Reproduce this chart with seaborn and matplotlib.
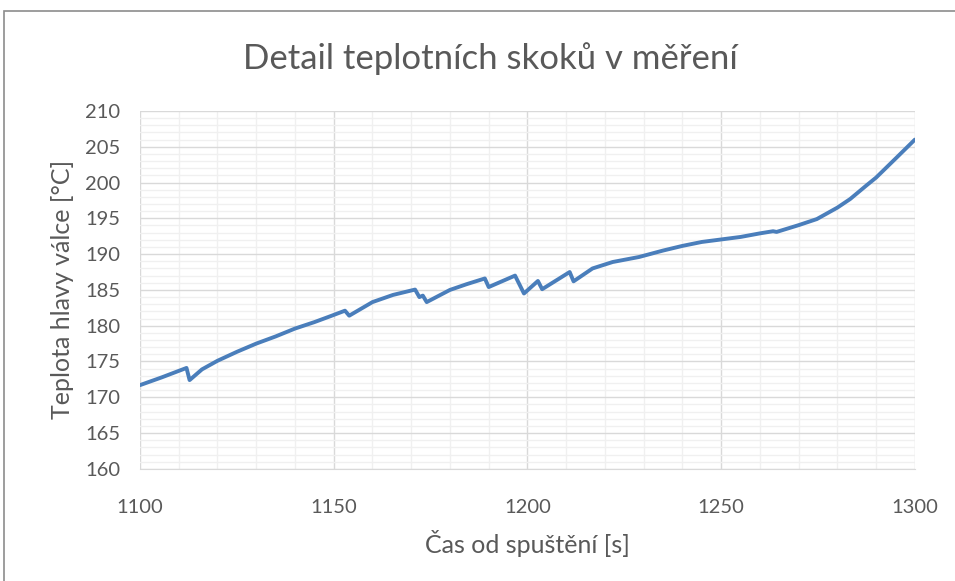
import matplotlib
matplotlib.use("Agg")
import matplotlib.pyplot as plt
import seaborn as sns
import pandas as pd
from matplotlib.patches import Rectangle
from matplotlib.ticker import MultipleLocator

# =========================
# DATA
# =========================
cas = [1100, 1105.7, 1112.0, 1112.8, 1116, 1120, 1125, 1130, 1135, 1140,
       1145, 1149, 1152.9, 1154.0, 1160, 1165.3, 1171.0, 1172.1, 1173.0, 1174.0,
       1180, 1184.3, 1189.0, 1190.0, 1196.8, 1199.1, 1202.7, 1203.8, 1210.9, 1211.9,
       1216.8, 1222, 1228.8, 1235, 1240, 1245, 1250, 1255, 1260, 1263.4,
       1264.3, 1270, 1274.7, 1280, 1283.3, 1287.5, 1290, 1295.3, 1300]
teplota = [171.7, 172.8, 174.1, 172.4, 173.9, 175.1, 176.35, 177.5, 178.5, 179.6,
           180.5, 181.3, 182.1, 181.4, 183.3, 184.3, 185.05, 184.0, 184.2, 183.3,
           185.0, 185.8, 186.6, 185.4, 187.0, 184.5, 186.25, 185.1, 187.5, 186.2,
           188.0, 188.9, 189.6, 190.5, 191.15, 191.7, 192.05, 192.4, 192.9, 193.2,
           193.1, 194.05, 194.9, 196.5, 197.7, 199.6, 200.7, 203.5, 206.0]

TITLE = "Detail teplotních skoků v měření"
XLABEL = "Čas od spuštění [s]"
YLABEL = "Teplota hlavy válce [°C]"

df = pd.DataFrame({"cas": cas, "teplota": teplota})

# =========================
# STYLE
# =========================
sns.set_style("white")
plt.rcParams["font.family"] = ["Lato", "DejaVu Sans"]
TEXT = "#595959"

fig = plt.figure(figsize=(9.55, 5.81), dpi=100)
ax = fig.add_axes([0.1466, 0.193, 0.8114, 0.616])

# chart border (cut off on right/bottom like the reference)
fig.patches.append(Rectangle((0.0042, -0.1), 1.2, 1.081, transform=fig.transFigure,
                             fill=False, edgecolor="#8c8c8c", linewidth=1.2))

sns.lineplot(data=df, x="cas", y="teplota", ax=ax, color="#4A7EBB",
             linewidth=2.8, estimator=None, sort=False)

ax.set_xlim(1100, 1300)
ax.set_ylim(160, 210)
ax.xaxis.set_major_locator(MultipleLocator(50))
ax.xaxis.set_minor_locator(MultipleLocator(10))
ax.yaxis.set_major_locator(MultipleLocator(5))
ax.yaxis.set_minor_locator(MultipleLocator(1))

ax.grid(which="minor", color="#f0f0f0", linewidth=1.0)
ax.grid(which="major", color="#d9d9d9", linewidth=1.0)
ax.set_axisbelow(True)

for side in ["top", "right", "left"]:
    ax.spines[side].set_visible(False)
ax.spines["bottom"].set_color("#d9d9d9")

ax.tick_params(which="both", length=0, labelsize=14.5, colors=TEXT)
ax.tick_params(axis="x", pad=22)
ax.tick_params(axis="y", pad=14)

ax.set_xlabel(XLABEL, fontsize=18, color=TEXT, labelpad=10)
ax.set_ylabel(YLABEL, fontsize=18, color=TEXT, labelpad=8)
fig.text(0.513, 0.9, TITLE, ha="center", va="center", fontsize=25, color=TEXT)

plt.savefig("out.png", dpi=100)
plt.close()
